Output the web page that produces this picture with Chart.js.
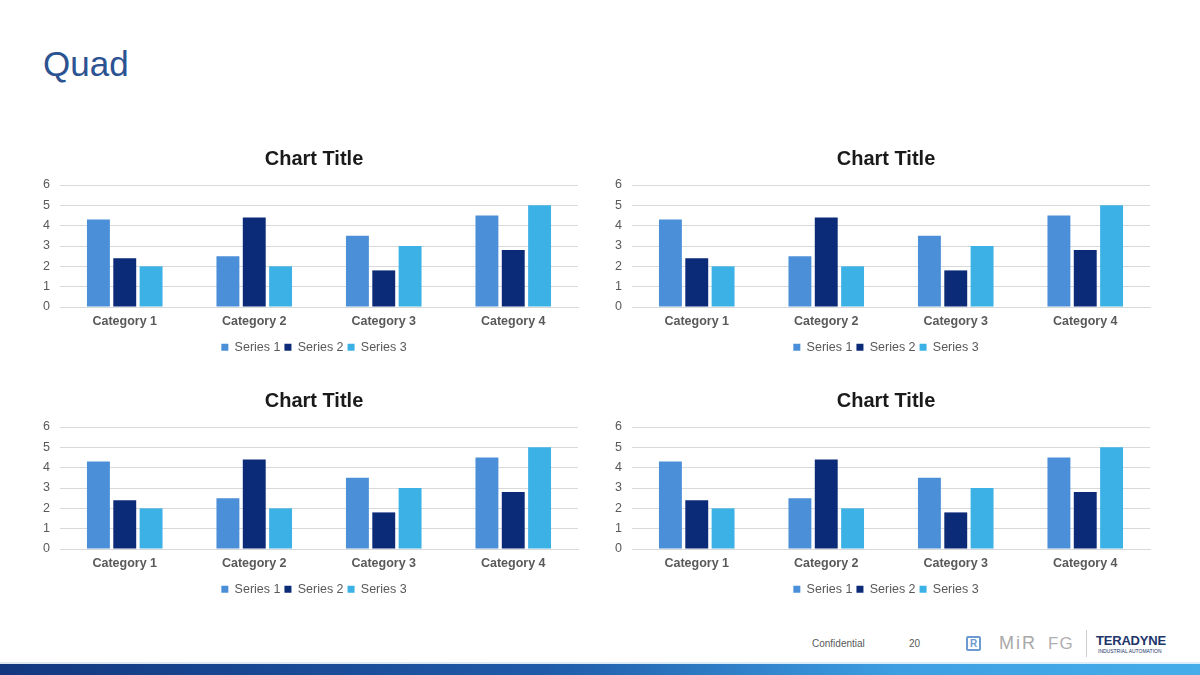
<!DOCTYPE html>
<html>
<head>
<meta charset="utf-8">
<script src="https://cdn.jsdelivr.net/npm/chart.js@4.4.1/dist/chart.umd.min.js"></script>
<style>
  html, body { margin:0; padding:0; background:#fff; }
  body { width:1200px; height:675px; position:relative; overflow:hidden; font-family:"Liberation Sans", Arial, sans-serif; }
  #title { position:absolute; left:43px; top:44px; font-size:35px; color:#2b5291; }
  .box { position:absolute; width:568px; height:224px; }
  #bar { position:absolute; left:0; top:664px; width:1200px; height:11px; background:linear-gradient(to right,#12377f 0%,#1f5aa8 45%,#3d9fe2 75%,#45ade9 100%); }
  #barline { position:absolute; left:0; top:662px; width:1200px; height:2px; background:linear-gradient(to right,#dfe7f1,#d8eefa); }
</style>
</head>
<body>
<div id="title">Quad</div>
<div class="box" style="left:30px;top:140px"><canvas id="c1" width="568" height="224"></canvas></div>
<div class="box" style="left:602px;top:140px"><canvas id="c2" width="568" height="224"></canvas></div>
<div class="box" style="left:30px;top:382px"><canvas id="c3" width="568" height="224"></canvas></div>
<div class="box" style="left:602px;top:382px"><canvas id="c4" width="568" height="224"></canvas></div>

<div style="position:absolute;left:812px;top:638px;font-size:10px;color:#595959">Confidential</div>
<div style="position:absolute;left:909px;top:638px;font-size:10px;color:#595959">20</div>
<div style="position:absolute;left:966px;top:636px;width:15px;height:15px;border:2px solid #6b9bd0;border-radius:2px;box-sizing:border-box;font:bold 10px 'Liberation Sans';color:#6b9bd0;text-align:center;line-height:11px">R</div>
<div style="position:absolute;left:999px;top:633px;font:18px 'Liberation Sans';color:#a8a8a8;letter-spacing:2px">MiR</div>
<div style="position:absolute;left:1048px;top:634px;font:17px 'Liberation Sans';color:#b0b0b0;letter-spacing:1px">FG</div>
<div style="position:absolute;left:1086px;top:630px;width:1px;height:27px;background:#cccccc"></div>
<div style="position:absolute;left:1096px;top:633px;font:bold 13px 'Liberation Sans';color:#22356a;letter-spacing:-0.2px">TERADYNE</div>
<div style="position:absolute;left:1098px;top:648px;font:5px 'Liberation Sans';color:#22356a">INDUSTRIAL AUTOMATION</div>
<div id="barline"></div>
<div id="bar"></div>

<script>
const categories = ["Category 1", "Category 2", "Category 3", "Category 4"];
const seriesNames = ["Series 1", "Series 2", "Series 3"];
const series1 = [4.3, 2.5, 3.5, 4.5];
const series2 = [2.4, 4.4, 1.8, 2.8];
const series3 = [2, 2, 3, 5];
const yTicks = [0, 1, 2, 3, 4, 5, 6];
const chartTitle = "Chart Title";
const colors = ["#4a8fd8", "#0b2a78", "#3cb1e6"];

function makeChart(id) {
  const vals = [series1, series2, series3];
  new Chart(document.getElementById(id), {
    type: 'bar',
    data: {
      labels: categories,
      datasets: vals.map((v, i) => ({
        label: seriesNames[i],
        data: v,
        backgroundColor: colors[i],
        borderWidth: 0,
        categoryPercentage: 0.61,
        barPercentage: 0.87
      }))
    },
    options: {
      responsive: false,
      animation: false,
      devicePixelRatio: 1,
      layout: { padding: { left: 0, right: 0, top: 0, bottom: 0.5 } },
      plugins: {
        title: {
          display: true, text: chartTitle, color: '#1a1a1a',
          font: { family: 'Liberation Sans', size: 20, weight: 'bold' },
          padding: { top: 7, bottom: 14 }
        },
        legend: {
          position: 'bottom',
          labels: {
            color: '#595959', boxWidth: 7, boxHeight: 7,
            font: { family: 'Liberation Sans', size: 12.5 },
            padding: 4
          }
        },
        tooltip: { enabled: false }
      },
      scales: {
        x: {
          grid: { display: false, drawTicks: false },
          border: { display: true, color: '#d9d9d9' },
          ticks: { color: '#595959', font: { family: 'Liberation Sans', size: 12.5, weight: 'bold' }, padding: 7.5 }
        },
        y: {
          min: 0, max: 6,
          afterBuildTicks: (s) => { s.ticks = yTicks.map(v => ({ value: v })); },
          afterFit: (s) => { s.width = 30; },
          grid: { color: '#d9d9d9', drawTicks: false },
          border: { display: false },
          ticks: { autoSkip: false, color: '#595959', font: { family: 'Liberation Sans', size: 12.5 }, padding: 10 }
        },
        yRight: {
          position: 'right',
          min: 0, max: 6,
          afterFit: (s) => { s.width = 20; },
          grid: { display: false, drawTicks: false },
          border: { display: false },
          ticks: { display: false }
        }
      }
    }
  });
}
['c1', 'c2', 'c3', 'c4'].forEach(makeChart);
</script>
</body>
</html>
